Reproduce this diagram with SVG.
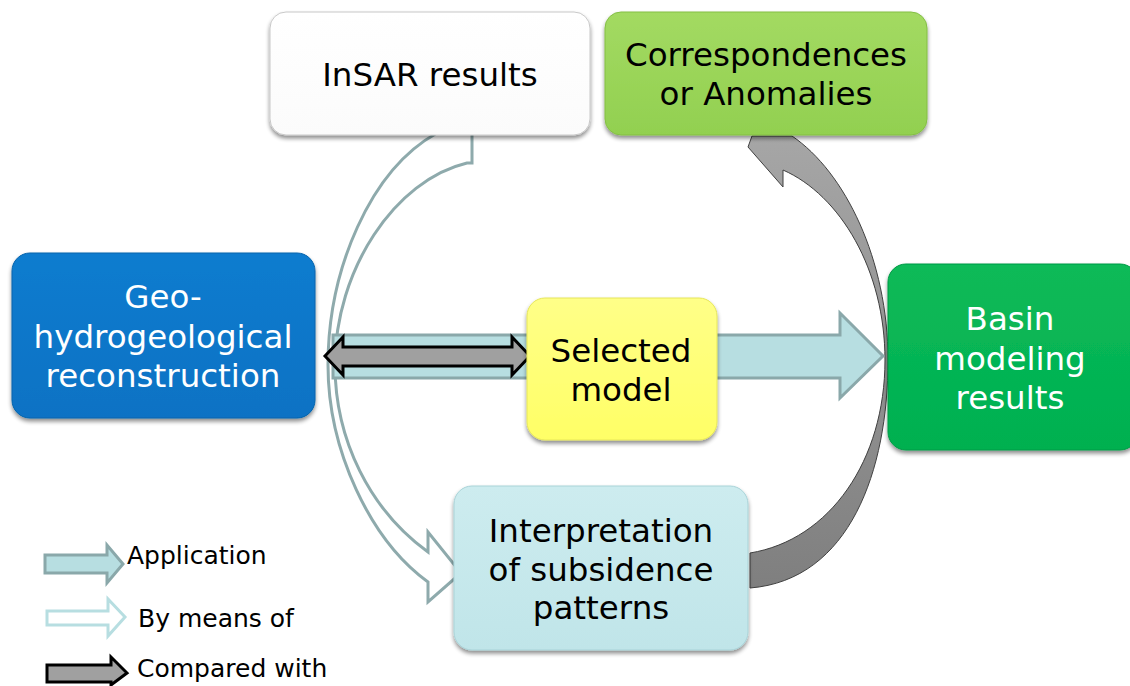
<svg xmlns="http://www.w3.org/2000/svg" width="1130" height="686" viewBox="0 0 1130 686">
  <defs>
    <filter id="shadow" x="-10%" y="-10%" width="120%" height="130%">
      <feGaussianBlur in="SourceAlpha" stdDeviation="2"/>
      <feOffset dx="0" dy="3" result="off"/>
      <feComponentTransfer><feFuncA type="linear" slope="0.45"/></feComponentTransfer>
      <feMerge><feMergeNode/><feMergeNode in="SourceGraphic"/></feMerge>
    </filter>
    <linearGradient id="gWhite" x1="0" y1="0" x2="0" y2="1">
      <stop offset="0" stop-color="#ffffff"/><stop offset="1" stop-color="#fbfbfb"/>
    </linearGradient>
    <linearGradient id="gLime" x1="0" y1="0" x2="0" y2="1">
      <stop offset="0" stop-color="#a3da62"/><stop offset="1" stop-color="#92d050"/>
    </linearGradient>
    <linearGradient id="gBlue" x1="0" y1="0" x2="0" y2="1">
      <stop offset="0" stop-color="#0e7ccf"/><stop offset="1" stop-color="#0872c4"/>
    </linearGradient>
    <linearGradient id="gYellow" x1="0" y1="0" x2="0" y2="1">
      <stop offset="0" stop-color="#ffff88"/><stop offset="1" stop-color="#ffff66"/>
    </linearGradient>
    <linearGradient id="gGreen" x1="0" y1="0" x2="0" y2="1">
      <stop offset="0" stop-color="#0cba58"/><stop offset="1" stop-color="#00b050"/>
    </linearGradient>
    <linearGradient id="gCyan" x1="0" y1="0" x2="0" y2="1">
      <stop offset="0" stop-color="#cdecef"/><stop offset="1" stop-color="#c0e5e9"/>
    </linearGradient>
    <linearGradient id="gGray" x1="0" y1="0" x2="0" y2="1">
      <stop offset="0" stop-color="#a6a6a6"/><stop offset="1" stop-color="#7f7f7f"/>
    </linearGradient>
  </defs>
  <style>
    .label { font-family: "DejaVu Sans", Verdana, sans-serif; font-size: 32.5px; text-anchor: middle; fill: #000; }
    .light { fill: #fff; }
    .legend { font-family: "DejaVu Sans", Verdana, sans-serif; font-size: 25px; fill: #000; }
    .box { filter: url(#shadow); stroke-width: 1; }
    .means { fill: #fff; stroke: #8eaaac; stroke-width: 3; stroke-linejoin: miter; }
    .apply { fill: #b7dee1; stroke: #8aa8aa; stroke-width: 3; stroke-linejoin: miter; }
    .compare { fill: #a0a0a0; stroke: #000; stroke-width: 3; stroke-linejoin: miter; }
    .feedback { fill: url(#gGray); stroke: #404040; stroke-width: 1; }
  </style>

  <rect width="1130" height="686" fill="#fff"/>

  <g id="connectors">
    <!-- InSAR results -> Interpretation (by means of) -->
    <path class="means" d="M 437,133 C 370,170 328,270 328,365 C 328,450 370,540 428,582 L 428,602 L 461,573 L 428,532 L 428,552 C 370,510 335,440 335,365 C 335,270 395,180 467,163 L 472,163 L 472,133 Z"/>
    <!-- Interpretation -> Correspondences or Anomalies -->
    <path class="feedback" d="M 750,588 C 850,580 888,470 888,360 C 888,260 845,172 792,136 L 752,136 L 748,147 L 783,187 L 783,170 C 840,195 885,270 885,360 C 885,460 830,540 750,553 Z"/>
    <!-- Geo-hydrogeological reconstruction -> Basin modeling results (application) -->
    <path class="apply" d="M 333,335 L 840,335 L 840,313 L 883,356 L 840,398 L 840,378 L 333,378 Z"/>
    <!-- Geo-hydrogeological reconstruction <-> Selected model (compared with) -->
    <path class="compare" d="M 325,356 L 343,337 L 343,347 L 512,347 L 512,337 L 530,356 L 512,375 L 512,366 L 343,366 L 343,375 Z"/>
  </g>

  <g id="node-insar">
    <rect class="box" x="270" y="12" width="320" height="123" rx="16" fill="url(#gWhite)" stroke="#c8c8c8"/>
    <text class="label" x="430" y="86">InSAR results</text>
  </g>

  <g id="node-correspondences">
    <rect class="box" x="605" y="12" width="322" height="123" rx="16" fill="url(#gLime)" stroke="#84bf45"/>
    <text class="label" x="766" y="66">Correspondences</text>
    <text class="label" x="766" y="105">or Anomalies</text>
  </g>

  <g id="node-geo">
    <rect class="box" x="12" y="253" width="303" height="165" rx="18" fill="url(#gBlue)" stroke="#0663ac"/>
    <text class="label light" x="163" y="308">Geo-</text>
    <text class="label light" x="163" y="348">hydrogeological</text>
    <text class="label light" x="163" y="387">reconstruction</text>
  </g>

  <g id="node-selected">
    <rect class="box" x="527" y="298" width="190" height="142" rx="18" fill="url(#gYellow)" stroke="#e6e65a"/>
    <text class="label" x="621" y="362">Selected</text>
    <text class="label" x="621" y="401">model</text>
  </g>

  <g id="node-basin">
    <rect class="box" x="888" y="264" width="250" height="186" rx="18" fill="url(#gGreen)" stroke="#009a46"/>
    <text class="label light" x="1010" y="330">Basin</text>
    <text class="label light" x="1010" y="370">modeling</text>
    <text class="label light" x="1010" y="409">results</text>
  </g>

  <g id="node-interpretation">
    <rect class="box" x="454" y="486" width="294" height="164" rx="18" fill="url(#gCyan)" stroke="#a9d3d8"/>
    <text class="label" x="601" y="542">Interpretation</text>
    <text class="label" x="601" y="581">of subsidence</text>
    <text class="label" x="601" y="619">patterns</text>
  </g>

  <g id="legend">
    <path class="apply" d="M 45,555 L 107,555 L 107,545 L 123,564 L 107,583 L 107,573 L 45,573 Z"/>
    <text class="legend" x="127" y="564">Application</text>
    <path fill="#fff" stroke="#b7dee1" stroke-width="3" d="M 47,611 L 108,611 L 108,599 L 125,617 L 108,636 L 108,625 L 47,625 Z"/>
    <text class="legend" x="138" y="627">By means of</text>
    <path class="compare" d="M 47,665 L 111,665 L 111,657 L 127,673 L 111,685 L 111,682 L 47,682 Z"/>
    <text class="legend" x="137" y="677">Compared with</text>
  </g>
</svg>
